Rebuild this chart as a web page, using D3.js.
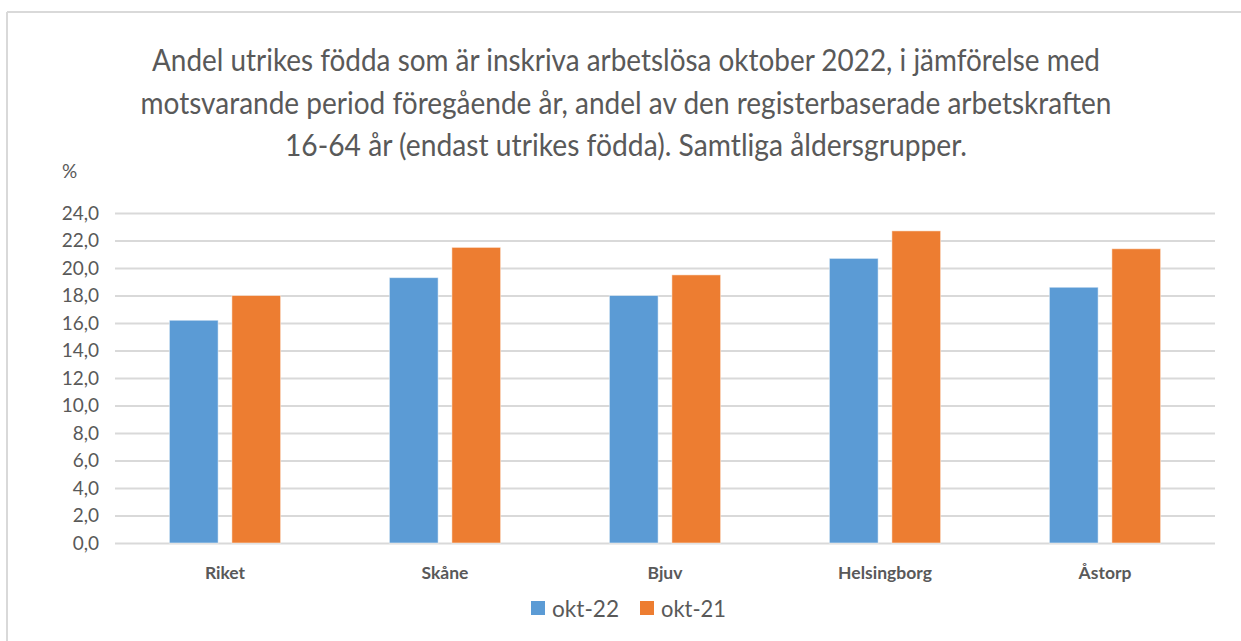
<!DOCTYPE html>
<html>
<head>
<meta charset="utf-8">
<script src="https://cdn.jsdelivr.net/npm/d3@7"></script>
<style>
  html, body { margin: 0; padding: 0; background: #fff; }
  svg { display: block; }
  text { font-family: Lato, "Open Sans", sans-serif; }
</style>
</head>
<body>
<svg id="chart" width="1241" height="641"></svg>
<script>
const categories = ["Riket", "Skåne", "Bjuv", "Helsingborg", "Åstorp"];
const seriesNames = ["okt-22", "okt-21"];
const okt22 = [16.2, 19.3, 18.0, 20.7, 18.6];
const okt21 = [18.0, 21.5, 19.5, 22.7, 21.4];
const yTicks = [0, 2, 4, 6, 8, 10, 12, 14, 16, 18, 20, 22, 24];
const titleLines = [
  "Andel utrikes födda som är inskriva arbetslösa oktober 2022, i jämförelse med",
  "motsvarande period föregående år, andel av den registerbaserade arbetskraften",
  "16-64 år (endast utrikes födda). Samtliga åldersgrupper."
];
const titleWidths = [948, 971, 682];
const colors = ["#5B9BD5", "#ED7D31"];

const svg = d3.select("#chart");

// frame
svg.append("line").attr("x1", 7).attr("x2", 1241).attr("y1", 12).attr("y2", 12)
  .attr("stroke", "#d9d9d9").attr("stroke-width", 2);
svg.append("line").attr("x1", 7).attr("x2", 7).attr("y1", 12).attr("y2", 641)
  .attr("stroke", "#d9d9d9").attr("stroke-width", 2);

// title
titleLines.forEach((t, i) => {
  svg.append("text")
    .attr("x", 626).attr("y", 71 + i * 42.5)
    .attr("text-anchor", "middle")
    .attr("fill", "#595959")
    .attr("font-size", 30)
    .attr("textLength", titleWidths[i])
    .attr("lengthAdjust", "spacingAndGlyphs")
    .text(t);
});

svg.append("text").attr("x", 62).attr("y", 178).attr("fill", "#595959")
  .attr("font-size", 19).text("%");

const x0 = d3.scaleBand().domain(categories).range([115, 1215]).padding(0);
const x1 = d3.scaleBand().domain(seriesNames).range([0, x0.bandwidth()])
  .paddingInner(0.22).paddingOuter(0.87);
const y = d3.scaleLinear().domain([0, 24]).range([543, 213]);

// grid + y labels
const yAxis = d3.axisLeft(y).tickValues(yTicks)
  .tickSize(-1100).tickPadding(16)
  .tickFormat(d => d3.format(".1f")(d).replace(".", ","));
const gy = svg.append("g").attr("transform", "translate(115,0)").call(yAxis);
gy.select(".domain").remove();
gy.selectAll(".tick line").attr("stroke", "#d9d9d9").attr("stroke-width", 2);
gy.selectAll(".tick text").attr("fill", "#595959").attr("font-size", 19)
  .attr("font-family", "Lato, sans-serif");

// bars
const data = categories.map((c, i) => ({ c, vals: [okt22[i], okt21[i]] }));
const groups = svg.append("g").selectAll("g").data(data).join("g")
  .attr("transform", d => `translate(${x0(d.c)},0)`);
groups.selectAll("rect").data(d => d.vals.map((v, j) => ({ v, s: seriesNames[j], j })))
  .join("rect")
  .attr("x", d => x1(d.s))
  .attr("width", x1.bandwidth())
  .attr("y", d => y(d.v))
  .attr("height", d => y(0) - y(d.v))
  .attr("fill", d => colors[d.j])
  .attr("stroke", "#fff").attr("stroke-opacity", 0.5).attr("stroke-width", 1);

// x axis labels
const xAxis = d3.axisBottom(x0).tickSize(0).tickPadding(24);
const gx = svg.append("g").attr("transform", "translate(0,543)").call(xAxis);
gx.select(".domain").remove();
gx.selectAll(".tick text").attr("fill", "#595959").attr("font-size", 17.5)
  .attr("font-weight", "bold").attr("font-family", "Lato, sans-serif");

// legend
const legendX = [531, 640];
seriesNames.forEach((s, i) => {
  svg.append("rect").attr("x", legendX[i]).attr("y", 601).attr("width", 14).attr("height", 14)
    .attr("fill", colors[i]);
  svg.append("text").attr("x", legendX[i] + 21).attr("y", 617)
    .attr("fill", "#595959").attr("font-size", 23)
    .attr("textLength", i === 0 ? 67 : 65).attr("lengthAdjust", "spacingAndGlyphs")
    .text(s);
});
</script>
</body>
</html>
